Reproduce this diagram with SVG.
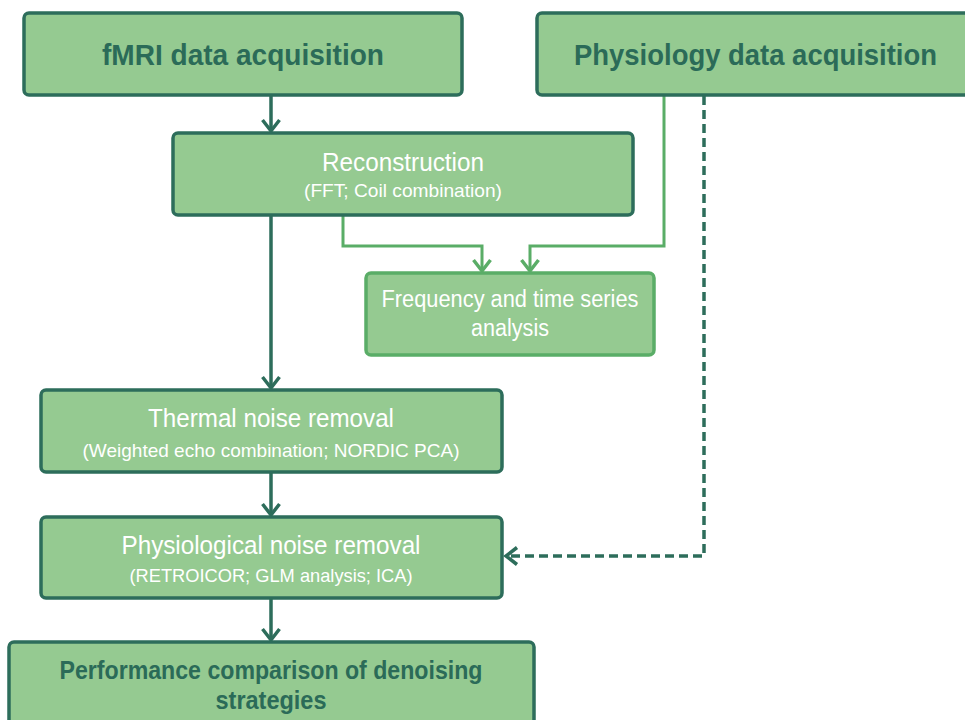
<svg xmlns="http://www.w3.org/2000/svg" width="965" height="720" viewBox="0 0 965 720">
  <style>
    .box { fill: #95ca91; stroke: #2d6d5b; stroke-width: 3.5; }
    .box-light { fill: #95ca91; stroke: #5aad67; stroke-width: 3.5; }
    .head { font-family: "Liberation Sans Narrow", "Liberation Sans", Arial, sans-serif; font-weight: bold; fill: #2b6b58; text-anchor: middle; }
    .main { font-family: "Liberation Sans Narrow", "Liberation Sans", Arial, sans-serif; fill: #ffffff; text-anchor: middle; }
    .dark { fill: none; stroke: #2d6d5b; stroke-width: 3.5; }
    .light { fill: none; stroke: #5aad67; stroke-width: 3; }
    .dash { fill: none; stroke: #2d6d5b; stroke-width: 3.5; stroke-dasharray: 9 5; }
  </style>
  <defs>
    <!-- open chevron heads, drawn along +x so orient="auto" turns them with the line -->
    <marker id="arrowDark" markerWidth="16" markerHeight="20" viewBox="0 0 16 20" refX="13" refY="10" orient="auto" markerUnits="userSpaceOnUse">
      <polyline points="2,1.5 13,10 2,18.5" fill="none" stroke="#2d6d5b" stroke-width="3.5"/>
    </marker>
    <marker id="arrowLight" markerWidth="16" markerHeight="20" viewBox="0 0 16 20" refX="13" refY="10" orient="auto" markerUnits="userSpaceOnUse">
      <polyline points="2,1.5 13,10 2,18.5" fill="none" stroke="#5aad67" stroke-width="3.5"/>
    </marker>
  </defs>

  <rect width="965" height="720" fill="#ffffff"/>

  <!-- connectors -->
  <g id="connectors">
    <line class="dark" x1="271" y1="95" x2="271" y2="131" marker-end="url(#arrowDark)"/>
    <line class="dark" x1="271" y1="215" x2="271" y2="388" marker-end="url(#arrowDark)"/>
    <line class="dark" x1="271" y1="472" x2="271" y2="515" marker-end="url(#arrowDark)"/>
    <line class="dark" x1="271" y1="598" x2="271" y2="640" marker-end="url(#arrowDark)"/>
    <polyline class="light" points="343,215 343,246 482,246 482,271" marker-end="url(#arrowLight)"/>
    <polyline class="light" points="664,95 664,246 530,246 530,271" marker-end="url(#arrowLight)"/>
    <polyline class="dash" points="704,96 704,556 506,556" marker-end="url(#arrowDark)"/>
  </g>

  <g id="fmri-acquisition">
    <rect class="box" x="24" y="13" width="438" height="82" rx="5"/>
    <text class="head" x="243" y="65" font-size="29" textLength="282" lengthAdjust="spacingAndGlyphs">fMRI data acquisition</text>
  </g>

  <g id="physiology-acquisition">
    <rect class="box" x="537" y="13" width="440" height="82" rx="5"/>
    <text class="head" x="755.5" y="65" font-size="29" textLength="363" lengthAdjust="spacingAndGlyphs">Physiology data acquisition</text>
  </g>

  <g id="reconstruction">
    <rect class="box" x="173" y="133" width="460" height="82" rx="5"/>
    <text class="main" x="403" y="171" font-size="25" textLength="162" lengthAdjust="spacingAndGlyphs">Reconstruction</text>
    <text class="main" x="403" y="197" font-size="19" textLength="198" lengthAdjust="spacingAndGlyphs">(FFT; Coil combination)</text>
  </g>

  <g id="frequency-analysis">
    <rect class="box-light" x="366" y="273" width="288" height="82" rx="5"/>
    <text class="main" x="510" y="307" font-size="23" textLength="257" lengthAdjust="spacingAndGlyphs">Frequency and time series</text>
    <text class="main" x="510" y="336" font-size="23" textLength="78" lengthAdjust="spacingAndGlyphs">analysis</text>
  </g>

  <g id="thermal-noise">
    <rect class="box" x="41" y="390" width="461" height="82" rx="5"/>
    <text class="main" x="271" y="427" font-size="25" textLength="246" lengthAdjust="spacingAndGlyphs">Thermal noise removal</text>
    <text class="main" x="271" y="457" font-size="19" textLength="377" lengthAdjust="spacingAndGlyphs">(Weighted echo combination; NORDIC PCA)</text>
  </g>

  <g id="physiological-noise">
    <rect class="box" x="41" y="517" width="461" height="81" rx="5"/>
    <text class="main" x="271" y="554" font-size="25" textLength="299" lengthAdjust="spacingAndGlyphs">Physiological noise removal</text>
    <text class="main" x="271" y="582" font-size="19" textLength="283" lengthAdjust="spacingAndGlyphs">(RETROICOR; GLM analysis; ICA)</text>
  </g>

  <g id="performance-comparison">
    <rect class="box" x="9" y="642" width="525" height="100" rx="5"/>
    <text class="head" x="271" y="679" font-size="25" textLength="423" lengthAdjust="spacingAndGlyphs">Performance comparison of denoising</text>
    <text class="head" x="271" y="709" font-size="25" textLength="111" lengthAdjust="spacingAndGlyphs">strategies</text>
  </g>
</svg>
